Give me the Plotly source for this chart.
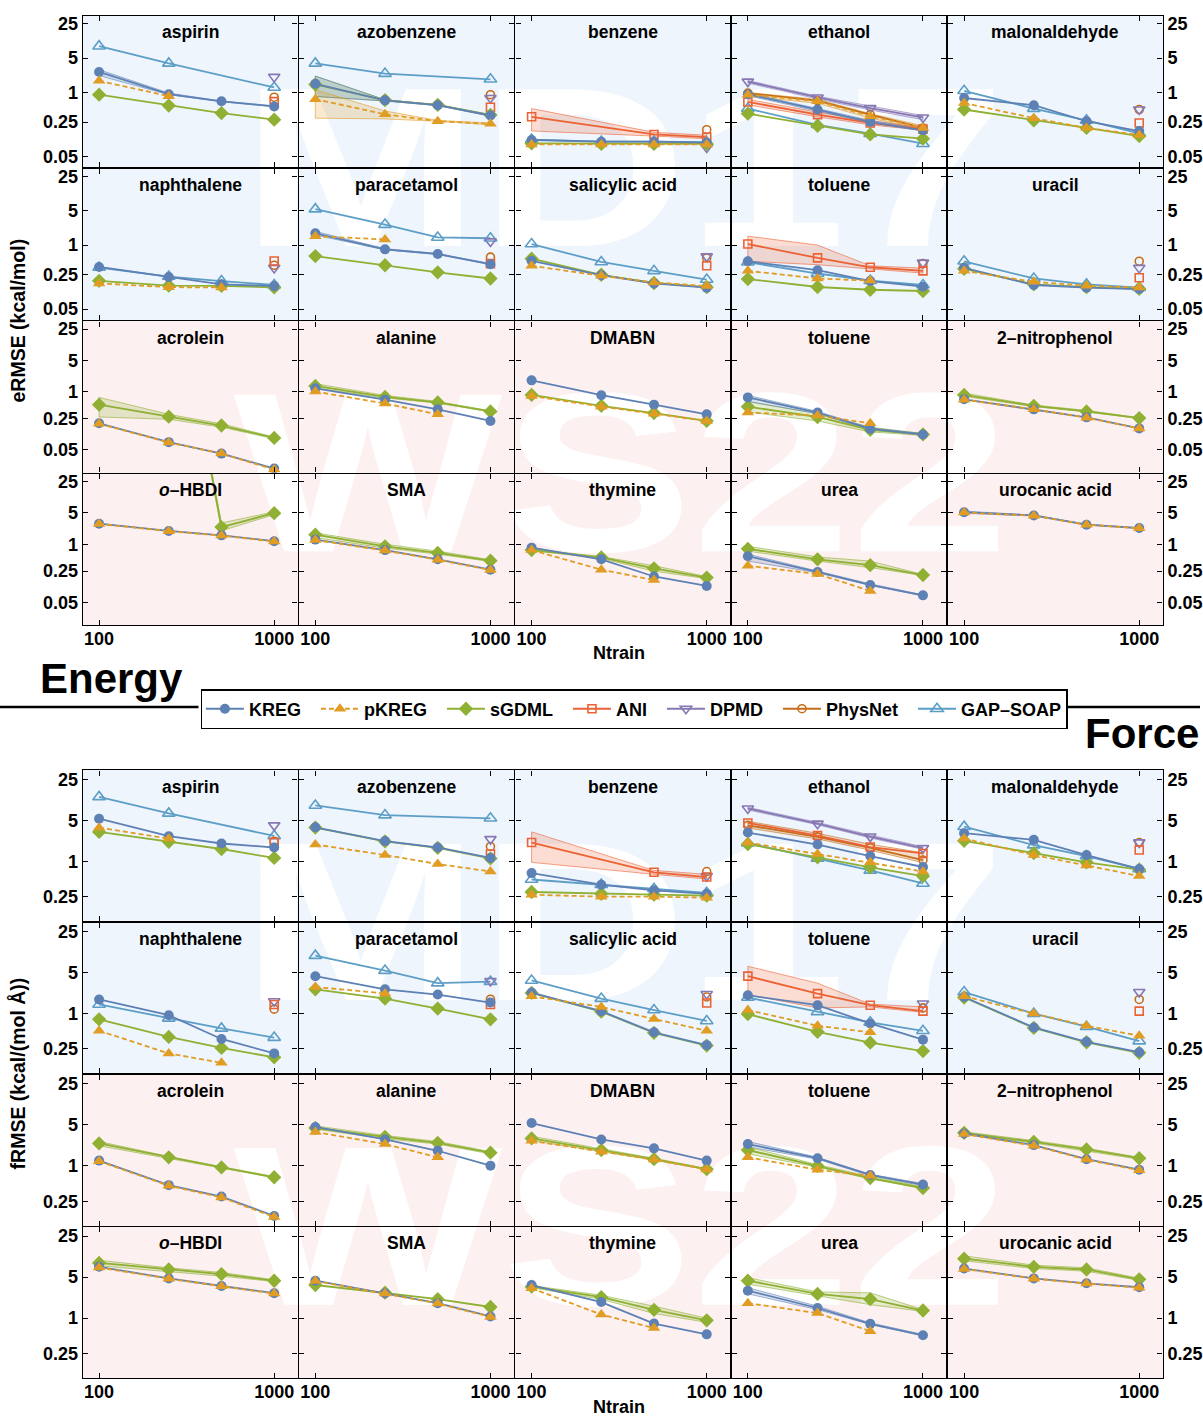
import base64
import plotly.graph_objects as go

# ---------------------------------------------------------------- data
NTRAIN = [100, 250, 500, 1000]

MD17 = ["aspirin", "azobenzene", "benzene", "ethanol", "malonaldehyde",
        "naphthalene", "paracetamol", "salicylic acid", "toluene", "uracil"]
WS22 = ["acrolein", "alanine", "DMABN", "toluene", "2-nitrophenol",
        "o-HBDI", "SMA", "thymine", "urea", "urocanic acid"]

METHODS = ["KREG", "pKREG", "sGDML", "ANI", "DPMD", "PhysNet", "GAP-SOAP"]

# energy RMSE, kcal/mol
E_KREG = {
    "MD17 aspirin": [2.61, 0.92, 0.66, 0.52],
    "MD17 azobenzene": [1.50, 0.69, 0.55, 0.34],
    "MD17 benzene": [0.108, 0.10, 0.10, 0.095],
    "MD17 ethanol": [0.92, 0.45, 0.25, 0.17],
    "MD17 malonaldehyde": [0.77, 0.55, 0.26, 0.164],
    "MD17 naphthalene": [0.36, 0.224, 0.16, 0.147],
    "MD17 paracetamol": [1.74, 0.82, 0.66, 0.41],
    "MD17 salicylic acid": [0.48, 0.245, 0.167, 0.137],
    "MD17 toluene": [0.47, 0.31, 0.186, 0.143],
    "MD17 uracil": [0.345, 0.155, 0.137, 0.128],
    "WS22 acrolein": [0.195, 0.074, 0.041, 0.019],
    "WS22 alanine": [1.18, 0.66, 0.40, 0.22],
    "WS22 DMABN": [1.78, 0.83, 0.51, 0.31],
    "WS22 toluene": [0.74, 0.34, 0.146, 0.11],
    "WS22 2-nitrophenol": [0.67, 0.40, 0.265, 0.15],
    "WS22 o-HBDI": [2.88, 1.98, 1.58, 1.17],
    "WS22 SMA": [1.27, 0.74, 0.46, 0.27],
    "WS22 thymine": [0.84, 0.46, 0.19, 0.117],
    "WS22 urea": [0.54, 0.24, 0.123, 0.072],
    "WS22 urocanic acid": [5.2, 4.4, 2.74, 2.3],
}
E_PKREG = {
    "MD17 aspirin": [1.72, 0.84, None, None],
    "MD17 azobenzene": [0.73, 0.36, 0.26, 0.23],
    "MD17 benzene": [0.088, 0.088, 0.088, 0.088],
    "MD17 ethanol": [0.90, 0.66, 0.33, 0.19],
    "MD17 malonaldehyde": [0.61, 0.30, 0.19, 0.137],
    "MD17 naphthalene": [0.167, 0.14, 0.138, None],
    "MD17 paracetamol": [1.52, 1.30, None, None],
    "MD17 salicylic acid": [0.38, 0.238, 0.175, 0.147],
    "MD17 toluene": [0.30, 0.21, 0.19, None],
    "MD17 uracil": [0.30, 0.18, 0.15, 0.137],
    "WS22 acrolein": [0.19, 0.073, 0.041, 0.018],
    "WS22 alanine": [1.0, 0.54, 0.31, None],
    "WS22 DMABN": [0.80, 0.46, 0.32, 0.22],
    "WS22 toluene": [0.34, 0.29, 0.195, None],
    "WS22 2-nitrophenol": [0.66, 0.40, 0.26, 0.15],
    "WS22 o-HBDI": [2.85, 1.96, 1.56, 1.15],
    "WS22 SMA": [1.24, 0.72, 0.45, 0.265],
    "WS22 thymine": [0.74, 0.27, 0.158, None],
    "WS22 urea": [0.33, 0.216, 0.09, None],
    "WS22 urocanic acid": [5.1, 4.35, 2.72, 2.28],
}
E_SGDML = {
    "MD17 aspirin": [0.90, 0.54, 0.38, 0.28],
    "MD17 azobenzene": [1.45, 0.70, 0.56, 0.35],
    "MD17 benzene": [0.092, 0.09, 0.09, 0.09],
    "MD17 ethanol": [0.37, 0.21, 0.14, 0.115],
    "MD17 malonaldehyde": [0.45, 0.27, 0.19, 0.13],
    "MD17 naphthalene": [0.188, 0.15, 0.148, 0.138],
    "MD17 paracetamol": [0.60, 0.39, 0.28, 0.21],
    "MD17 salicylic acid": [0.53, 0.25, 0.17, 0.14],
    "MD17 toluene": [0.204, 0.141, 0.124, 0.117],
    "MD17 uracil": [0.33, 0.16, 0.14, 0.13],
    "WS22 acrolein": [0.51, 0.275, 0.174, 0.092],
    "WS22 alanine": [1.34, 0.76, 0.57, 0.36],
    "WS22 DMABN": [0.84, 0.48, 0.33, 0.22],
    "WS22 toluene": [0.46, 0.27, 0.14, 0.11],
    "WS22 2-nitrophenol": [0.84, 0.48, 0.36, 0.255],
    "WS22 o-HBDI": [3e6, 5e6, 2.42, 4.96],
    "WS22 SMA": [1.64, 0.90, 0.64, 0.43],
    "WS22 thymine": [0.74, 0.51, 0.29, 0.18],
    "WS22 urea": [0.79, 0.46, 0.34, 0.205],
}
E_ANI = {
    "MD17 aspirin": [None, None, None, 0.65],
    "MD17 azobenzene": [None, None, None, 0.50],
    "MD17 benzene": [0.32, None, 0.14, 0.124],
    "MD17 ethanol": [0.64, 0.355, 0.24, 0.18],
    "MD17 malonaldehyde": [None, None, None, 0.24],
    "MD17 naphthalene": [None, None, None, 0.476],
    "MD17 paracetamol": [None, None, None, 0.42],
    "MD17 salicylic acid": [None, None, None, 0.38],
    "MD17 toluene": [1.05, 0.55, 0.355, 0.30],
    "MD17 uracil": [None, None, None, 0.217],
}
E_DPMD = {
    "MD17 aspirin": [None, None, None, 2.07],
    "MD17 azobenzene": [None, None, None, 0.77],
    "MD17 benzene": [None, None, None, 0.076],
    "MD17 ethanol": [1.66, 0.79, 0.48, 0.31],
    "MD17 malonaldehyde": [None, None, None, 0.45],
    "MD17 naphthalene": [None, None, None, 0.345],
    "MD17 paracetamol": [None, None, None, 1.19],
    "MD17 salicylic acid": [None, None, None, 0.59],
    "MD17 toluene": [None, None, None, 0.44],
    "MD17 uracil": [None, None, None, 0.345],
}
E_PHYSNET = {
    "MD17 aspirin": [None, None, None, 0.80],
    "MD17 azobenzene": [None, None, None, 0.90],
    "MD17 benzene": [None, None, None, 0.175],
    "MD17 ethanol": [0.97, 0.68, 0.355, 0.19],
    "MD17 malonaldehyde": [None, None, None, 0.45],
    "MD17 naphthalene": [None, None, None, 0.39],
    "MD17 paracetamol": [None, None, None, 0.57],
    "MD17 salicylic acid": [None, None, None, 0.55],
    "MD17 toluene": [None, None, None, 0.42],
    "MD17 uracil": [None, None, None, 0.47],
}
E_GAP = {
    "MD17 aspirin": [8.7, 3.89, None, 1.26],
    "MD17 azobenzene": [3.89, 2.41, None, 1.85],
    "MD17 benzene": [0.11, 0.10, 0.10, 0.098],
    "MD17 ethanol": [0.47, 0.22, 0.145, 0.091],
    "MD17 malonaldehyde": [1.08, 0.47, 0.27, 0.148],
    "MD17 naphthalene": [0.35, 0.23, 0.186, 0.155],
    "MD17 paracetamol": [5.38, 2.61, 1.43, 1.38],
    "MD17 salicylic acid": [1.05, 0.455, 0.30, 0.20],
    "MD17 toluene": [0.45, 0.265, 0.19, 0.155],
    "MD17 uracil": [0.47, 0.21, 0.16, 0.137],
}

# force RMSE, kcal/(mol A)
F_KREG = {
    "MD17 aspirin": [5.31, 2.68, 2.01, 1.72],
    "MD17 azobenzene": [3.8, 2.21, 1.72, 1.14],
    "MD17 benzene": [0.63, 0.40, 0.32, 0.28],
    "MD17 ethanol": [3.09, 1.93, 1.23, 0.80],
    "MD17 malonaldehyde": [3.01, 2.32, 1.28, 0.74],
    "MD17 naphthalene": [1.74, 0.94, 0.37, 0.21],
    "MD17 paracetamol": [4.34, 2.59, 2.11, 1.54],
    "MD17 salicylic acid": [2.28, 1.10, 0.48, 0.29],
    "MD17 toluene": [2.05, 1.39, 0.68, 0.36],
    "MD17 uracil": [1.92, 0.58, 0.33, 0.22],
    "WS22 acrolein": [1.23, 0.47, 0.30, 0.14],
    "WS22 alanine": [4.6, 2.82, 1.81, 1.01],
    "WS22 DMABN": [5.37, 2.82, 1.99, 1.23],
    "WS22 toluene": [2.35, 1.35, 0.70, 0.48],
    "WS22 2-nitrophenol": [3.56, 2.26, 1.30, 0.86],
    "WS22 o-HBDI": [7.5, 4.76, 3.53, 2.66],
    "WS22 SMA": [4.34, 2.66, 1.8, 1.07],
    "WS22 thymine": [3.67, 1.88, 0.81, 0.53],
    "WS22 urea": [2.94, 1.49, 0.80, 0.51],
    "WS22 urocanic acid": [7.0, 4.76, 3.92, 3.36],
}
F_PKREG = {
    "MD17 aspirin": [3.74, 2.44, None, None],
    "MD17 azobenzene": [1.93, 1.28, 0.90, 0.67],
    "MD17 benzene": [0.27, 0.25, 0.25, 0.24],
    "MD17 ethanol": [2.09, 1.33, 0.96, 0.67],
    "MD17 malonaldehyde": [2.44, 1.28, 0.85, 0.56],
    "MD17 naphthalene": [0.51, 0.21, 0.145, None],
    "MD17 paracetamol": [2.83, 2.21, None, None],
    "MD17 salicylic acid": [1.97, 1.30, 0.81, 0.51],
    "MD17 toluene": [1.15, 0.62, 0.48, None],
    "MD17 uracil": [1.97, 1.0, 0.62, 0.42],
    "WS22 acrolein": [1.20, 0.46, 0.29, 0.135],
    "WS22 alanine": [3.79, 2.35, 1.40, None],
    "WS22 DMABN": [2.67, 1.74, 1.28, 0.87],
    "WS22 toluene": [1.40, 0.86, 0.68, None],
    "WS22 2-nitrophenol": [3.5, 2.2, 1.28, 0.84],
    "WS22 o-HBDI": [7.3, 4.7, 3.5, 2.62],
    "WS22 SMA": [4.3, 2.62, 1.78, 1.05],
    "WS22 thymine": [3.23, 1.15, 0.68, None],
    "WS22 urea": [1.8, 1.22, 0.60, None],
    "WS22 urocanic acid": [6.9, 4.7, 3.88, 3.3],
}
F_SGDML = {
    "MD17 aspirin": [3.17, 2.15, 1.62, 1.14],
    "MD17 azobenzene": [3.75, 2.18, 1.70, 1.12],
    "MD17 benzene": [0.30, 0.28, 0.27, 0.26],
    "MD17 ethanol": [1.96, 1.17, 0.79, 0.56],
    "MD17 malonaldehyde": [2.23, 1.38, 0.96, 0.72],
    "MD17 naphthalene": [0.80, 0.40, 0.26, 0.18],
    "MD17 paracetamol": [2.59, 1.80, 1.22, 0.80],
    "MD17 salicylic acid": [2.25, 1.08, 0.47, 0.285],
    "MD17 toluene": [0.98, 0.49, 0.32, 0.23],
    "MD17 uracil": [1.88, 0.57, 0.325, 0.215],
    "WS22 acrolein": [2.41, 1.40, 0.94, 0.64],
    "WS22 alanine": [4.42, 3.12, 2.47, 1.68],
    "WS22 DMABN": [2.93, 1.86, 1.30, 0.88],
    "WS22 toluene": [1.86, 1.0, 0.62, 0.42],
    "WS22 2-nitrophenol": [3.65, 2.57, 1.91, 1.35],
    "WS22 o-HBDI": [8.74, 6.75, 5.63, 4.34],
    "WS22 SMA": [3.67, 2.72, 2.11, 1.55],
    "WS22 thymine": [3.44, 2.28, 1.39, 0.92],
    "WS22 urea": [4.34, 2.59, 2.11, 1.35],
    "WS22 urocanic acid": [10.3, 7.5, 6.75, 4.58],
}
F_ANI = {
    "MD17 aspirin": [None, None, None, 2.09],
    "MD17 azobenzene": [None, None, None, 1.33],
    "MD17 benzene": [2.09, None, 0.65, 0.54],
    "MD17 ethanol": [4.5, 2.75, 1.75, 1.36],
    "MD17 malonaldehyde": [None, None, None, 1.56],
    "MD17 naphthalene": [None, None, None, 1.43],
    "MD17 paracetamol": [None, None, None, 1.43],
    "MD17 salicylic acid": [None, None, None, 1.52],
    "MD17 toluene": [4.34, 2.19, 1.39, 1.10],
    "MD17 uracil": [None, None, None, 1.10],
}
F_DPMD = {
    "MD17 aspirin": [None, None, None, 4.1],
    "MD17 azobenzene": [None, None, None, 2.39],
    "MD17 benzene": [None, None, None, 0.56],
    "MD17 ethanol": [7.94, 4.38, 2.64, 1.68],
    "MD17 malonaldehyde": [None, None, None, 2.1],
    "MD17 naphthalene": [None, None, None, 1.62],
    "MD17 paracetamol": [None, None, None, 3.6],
    "MD17 salicylic acid": [None, None, None, 2.16],
    "MD17 toluene": [None, None, None, 1.49],
    "MD17 uracil": [None, None, None, 2.33],
}
F_PHYSNET = {
    "MD17 aspirin": [None, None, None, 2.2],
    "MD17 azobenzene": [None, None, None, 1.79],
    "MD17 benzene": [None, None, None, 0.67],
    "MD17 ethanol": [4.1, 2.61, 1.70, 1.05],
    "MD17 malonaldehyde": [None, None, None, 2.09],
    "MD17 naphthalene": [None, None, None, 1.19],
    "MD17 paracetamol": [None, None, None, 1.76],
    "MD17 salicylic acid": [None, None, None, 1.92],
    "MD17 toluene": [None, None, None, 1.25],
    "MD17 uracil": [None, None, None, 1.74],
}
F_GAP = {
    "MD17 aspirin": [12.5, 6.55, None, 2.71],
    "MD17 azobenzene": [8.94, 6.12, None, 5.4],
    "MD17 benzene": [0.49, 0.40, 0.34, 0.29],
    "MD17 ethanol": [2.04, 1.12, 0.70, 0.42],
    "MD17 malonaldehyde": [3.89, 1.89, 1.23, 0.74],
    "MD17 naphthalene": [1.43, 0.83, 0.56, 0.39],
    "MD17 paracetamol": [9.7, 5.4, 3.3, 3.5],
    "MD17 salicylic acid": [3.67, 1.80, 1.15, 0.75],
    "MD17 toluene": [1.88, 1.07, 0.71, 0.51],
    "MD17 uracil": [2.33, 1.0, 0.60, 0.34],
}

# spread over repeated trainings: (panel, method, low, high)
E_BANDS = [
    ("MD17 aspirin", "KREG", [2.2, 0.90, 0.65, 0.51], [2.9, 0.97, 0.67, 0.53]),
    ("MD17 azobenzene", "sGDML", [0.83, 0.67, 0.54, 0.33], [2.15, 0.71, 0.56, 0.35]),
    ("MD17 azobenzene", "KREG", [0.83, 0.67, 0.54, 0.33], [2.15, 0.71, 0.56, 0.35]),
    ("MD17 azobenzene", "pKREG", [0.30, 0.29, 0.26, 0.22], [1.13, 0.42, 0.27, 0.24]),
    ("MD17 benzene", "ANI", [0.165, None, 0.13, 0.115], [0.47, None, 0.155, 0.135]),
    ("MD17 ethanol", "DPMD", [1.55, 0.74, 0.44, 0.28], [1.75, 0.84, 0.53, 0.34]),
    ("MD17 ethanol", "pKREG", [0.84, 0.60, 0.30, 0.18], [1.0, 0.72, 0.37, 0.21]),
    ("MD17 ethanol", "ANI", [0.56, 0.32, 0.22, 0.17], [0.72, 0.40, 0.27, 0.19]),
    ("MD17 ethanol", "KREG", [0.86, 0.42, 0.24, 0.165], [0.98, 0.48, 0.27, 0.18]),
    ("MD17 paracetamol", "KREG", [1.6, 0.80, 0.65, 0.40], [1.9, 0.85, 0.67, 0.42]),
    ("MD17 toluene", "ANI", [0.47, 0.40, 0.33, 0.27], [1.52, 1.0, 0.38, 0.34]),
    ("WS22 acrolein", "sGDML", [0.27, 0.24, 0.16, 0.088], [0.74, 0.31, 0.19, 0.096]),
    ("WS22 alanine", "sGDML", [1.2, 0.72, 0.55, 0.35], [1.5, 0.82, 0.60, 0.37]),
    ("WS22 toluene", "sGDML", [0.35, 0.22, 0.125, 0.105], [0.60, 0.32, 0.16, 0.115]),
    ("WS22 toluene", "KREG", [0.60, 0.32, 0.14, 0.105], [0.82, 0.36, 0.155, 0.115]),
    ("WS22 2-nitrophenol", "sGDML", [0.78, 0.46, 0.35, 0.25], [0.92, 0.50, 0.38, 0.26]),
    ("WS22 o-HBDI", "sGDML", [3e6, 5e6, 2.0, 4.6], [3e6, 5e6, 3.0, 5.3]),
    ("WS22 SMA", "sGDML", [1.4, 0.82, 0.60, 0.41], [1.8, 1.0, 0.70, 0.45]),
    ("WS22 thymine", "sGDML", [0.72, 0.48, 0.25, 0.17], [0.78, 0.53, 0.33, 0.19]),
    ("WS22 urea", "sGDML", [0.70, 0.42, 0.30, 0.20], [0.90, 0.52, 0.42, 0.21]),
    ("WS22 urea", "KREG", [0.42, 0.23, 0.12, 0.07], [0.60, 0.25, 0.13, 0.074]),
    ("WS22 urocanic acid", "KREG", [4.9, 4.3, 2.7, 2.25], [5.5, 4.5, 2.8, 2.35]),
]
F_BANDS = [
    ("MD17 benzene", "ANI", [0.96, None, 0.60, 0.50], [3.17, None, 0.70, 0.60]),
    ("MD17 ethanol", "PhysNet", [3.7, 2.4, 1.55, 0.95], [4.8, 3.0, 1.95, 1.40]),
    ("MD17 ethanol", "DPMD", [7.5, 4.2, 2.5, 1.6], [8.3, 4.6, 2.8, 1.78]),
    ("MD17 toluene", "ANI", [2.1, 1.25, 1.30, 1.05], [6.4, 3.3, 1.45, 1.30]),
    ("WS22 acrolein", "sGDML", [2.2, 1.35, 0.92, 0.63], [2.6, 1.45, 0.97, 0.66]),
    ("WS22 alanine", "sGDML", [4.2, 2.9, 2.35, 1.6], [4.8, 3.3, 2.6, 1.75]),
    ("WS22 DMABN", "sGDML", [2.7, 1.75, 1.25, 0.86], [3.2, 1.95, 1.35, 0.90]),
    ("WS22 toluene", "KREG", [2.1, 1.3, 0.68, 0.46], [2.6, 1.4, 0.72, 0.50]),
    ("WS22 toluene", "sGDML", [1.6, 0.95, 0.60, 0.41], [2.1, 1.05, 0.66, 0.44]),
    ("WS22 2-nitrophenol", "sGDML", [3.5, 2.45, 1.8, 1.3], [3.8, 2.7, 2.0, 1.4]),
    ("WS22 o-HBDI", "sGDML", [7.8, 6.2, 5.2, 4.2], [9.7, 7.2, 6.0, 4.5]),
    ("WS22 thymine", "sGDML", [3.3, 2.1, 1.2, 0.85], [3.6, 2.45, 1.6, 1.0]),
    ("WS22 urea", "sGDML", [3.8, 2.4, 1.7, 1.3], [4.9, 2.8, 2.7, 1.4]),
    ("WS22 urea", "KREG", [2.6, 1.4, 0.78, 0.50], [3.3, 1.6, 0.83, 0.53]),
    ("WS22 urocanic acid", "sGDML", [9.5, 7.0, 6.3, 4.4], [11.5, 8.0, 7.2, 4.8]),
]

E_TICKS = [0.05, 0.25, 1, 5, 25]
F_TICKS = [0.25, 1, 5, 25]
X_TICKS = [100, 1000]

# ---------------------------------------------------------------- styling
W, H = 1203, 1416
FONT = "Liberation Sans, Arial, sans-serif"
GRID_LEFT, PANEL_W = 82.3, 216.8
E_TOP, E_PANEL_H = 13.3, 152.9
F_TOP, F_PANEL_H = 768.7, 152.5
FRAME_W = 1.4
X_RANGE = [1.907, 3.134]
E_RANGE_MD17 = [-1.52, 1.553]
E_RANGE_WS22 = [-1.813, 1.57]
F_RANGE = [-1.02, 1.55]
TINT = {"MD17": "#eef5fd", "WS22": "#fdf0f0"}
LEGEND_L, LEGEND_R = 199, 1065

STYLE = {
    "KREG": dict(color="#5E81B5", symbol="circle", size=10, dash="solid"),
    "pKREG": dict(color="#E19C24", symbol="triangle-up", size=11, dash="5px,3px"),
    "sGDML": dict(color="#8FB032", symbol="diamond", size=11, dash="solid"),
    "ANI": dict(color="#EB6235", symbol="square-open", size=8, dash="solid"),
    "DPMD": dict(color="#8778B3", symbol="triangle-down-open", size=10, dash="solid"),
    "PhysNet": dict(color="#C56E1A", symbol="circle-open", size=8, dash="solid"),
    "GAP-SOAP": dict(color="#5D9EC7", symbol="triangle-up-open", size=11, dash="solid"),
}
DRAW_ORDER = ["GAP-SOAP", "PhysNet", "DPMD", "ANI", "sGDML", "KREG", "pKREG"]

E_DATA = {"KREG": E_KREG, "pKREG": E_PKREG, "sGDML": E_SGDML, "ANI": E_ANI,
          "DPMD": E_DPMD, "PhysNet": E_PHYSNET, "GAP-SOAP": E_GAP}
F_DATA = {"KREG": F_KREG, "pKREG": F_PKREG, "sGDML": F_SGDML, "ANI": F_ANI,
          "DPMD": F_DPMD, "PhysNet": F_PHYSNET, "GAP-SOAP": F_GAP}


def rgba(hex_color, a):
    h = hex_color.lstrip("#")
    return "rgba(%d,%d,%d,%.3f)" % (int(h[0:2], 16), int(h[2:4], 16), int(h[4:6], 16), a)


def display(text):
    text = text.replace("-", "\u2013")
    if text.startswith("o\u2013"):
        text = "<i>o</i>" + text[1:]
    return text


def fmt_tick(v):
    return "%g" % v


fig = go.Figure()
layout_axes = {}
annotations = []
legend_done = set()
tickfont = dict(family=FONT, size=18, color="black", weight="bold")

panels = [(ds, m) for ds, names in (("MD17", MD17), ("WS22", WS22)) for m in names]
half = FRAME_W / 2

n = 0
for block, (top0, ph, data, bands, ticks) in enumerate([
        (E_TOP, E_PANEL_H, E_DATA, E_BANDS, E_TICKS),
        (F_TOP, F_PANEL_H, F_DATA, F_BANDS, F_TICKS)]):
    for idx, (ds, mol) in enumerate(panels):
        n += 1
        row, col = divmod(idx, 5)
        key = ds + " " + mol
        x0 = GRID_LEFT + col * PANEL_W
        y0 = top0 + row * ph
        sx = "" if n == 1 else str(n)
        xref, yref = "x" + sx, "y" + sx
        if block == 0:
            yr = E_RANGE_MD17 if ds == "MD17" else E_RANGE_WS22
        else:
            yr = F_RANGE
        # frames of neighbouring panels sit exactly on top of each other
        layout_axes["xaxis" + sx] = dict(
            type="log", range=X_RANGE,
            domain=[(x0 + half) / W, (x0 + PANEL_W - half) / W],
            anchor=yref, tickvals=X_TICKS, ticktext=[fmt_tick(v) for v in X_TICKS],
            showticklabels=(row == 3), ticks="inside", ticklen=5, tickwidth=1.2,
            tickcolor="black", showline=True, linecolor="black", linewidth=FRAME_W,
            mirror="allticks", showgrid=False, zeroline=False, tickfont=tickfont,
            ticklabelstandoff=-3, fixedrange=True)
        layout_axes["yaxis" + sx] = dict(
            type="log", range=yr,
            domain=[1 - (y0 + ph - half) / H, 1 - (y0 + half) / H],
            anchor=xref, tickvals=ticks, ticktext=[fmt_tick(v) for v in ticks],
            showticklabels=(col in (0, 4)), side="right" if col == 4 else "left",
            ticks="inside", ticklen=5, tickwidth=1.2, tickcolor="black",
            showline=True, linecolor="black", linewidth=FRAME_W, mirror="allticks",
            showgrid=False, zeroline=False, tickfont=tickfont, fixedrange=True)
        annotations.append(dict(
            text=display(mol), x=(x0 + PANEL_W / 2) / W, y=1 - (y0 + 17) / H,
            font=dict(family=FONT, size=17.5, color="black", weight="bold")))

        # spread bands first
        for bkey, meth, lo, hi in bands:
            if bkey != key:
                continue
            c = STYLE[meth]["color"]
            pts = [(x, l, h) for x, l, h in zip(NTRAIN, lo, hi) if l is not None and h is not None]
            xs = [p[0] for p in pts] + [p[0] for p in reversed(pts)]
            ys = [p[2] for p in pts] + [p[1] for p in reversed(pts)]
            fig.add_trace(go.Scatter(
                x=xs + [xs[0]], y=ys + [ys[0]], mode="lines", fill="toself",
                fillcolor=rgba(c, 0.22), line=dict(color=rgba(c, 0.75), width=0.8),
                xaxis=xref, yaxis=yref, showlegend=False, hoverinfo="skip"))

        for meth in DRAW_ORDER:
            vals = data[meth].get(key)
            if vals is None:
                continue
            st = STYLE[meth]
            is_open = st["symbol"].endswith("-open")
            first = meth not in legend_done
            legend_done.add(meth)
            label = display(meth)
            if meth != METHODS[-1]:
                label += "\u00a0\u00a0"
            fig.add_trace(go.Scatter(
                x=NTRAIN, y=vals, mode="lines+markers", connectgaps=True,
                name=label, legendgroup=meth, showlegend=first,
                legendrank=METHODS.index(meth) + 1,
                line=dict(color=st["color"], width=1.8, dash=st["dash"]),
                marker=dict(symbol=st["symbol"], size=st["size"], color=st["color"],
                            line=dict(color=st["color"], width=1.6 if is_open else 0)),
                xaxis=xref, yaxis=yref, hoverinfo="skip"))

# ---------------------------------------------------------------- background tint and dataset watermarks
svg = ['<svg xmlns="http://www.w3.org/2000/svg" width="%d" height="%d" viewBox="0 0 %d %d">' % (W, H, W, H)]
grid_w = 5 * PANEL_W
for top0, ph in ((E_TOP, E_PANEL_H), (F_TOP, F_PANEL_H)):
    for k, ds in enumerate(("MD17", "WS22")):
        ry = top0 + 2 * k * ph
        svg.append('<rect x="%.1f" y="%.1f" width="%.1f" height="%.1f" fill="%s"/>'
                   % (GRID_LEFT, ry, grid_w, 2 * ph, TINT[ds]))
    for k, (ds, tx, tlen) in enumerate((("MD17", 242, 766), ("WS22", 234, 778))):
        base = top0 + 2 * k * ph + 231
        svg.append('<text x="%d" y="%.1f" font-family="Liberation Sans, Arial, sans-serif" '
                   'font-weight="bold" font-size="228" fill="white" textLength="%d" '
                   'lengthAdjust="spacingAndGlyphs">%s</text>' % (tx, base, tlen, ds))
svg.append('</svg>')
svg_uri = "data:image/svg+xml;base64," + base64.b64encode("".join(svg).encode()).decode()

# ---------------------------------------------------------------- labels
big = dict(family=FONT, size=42, color="black", weight="bold")
lab = dict(family=FONT, size=18, color="black", weight="bold")
axt = dict(family=FONT, size=19.5, color="black", weight="bold")
annotations += [
    dict(text="Ntrain", x=621 / W, y=1 - 652 / H, font=lab),
    dict(text="Ntrain", x=621 / W, y=1 - 1407 / H, font=lab),
    dict(text="eRMSE (kcal/mol)", x=18 / W, y=1 - 319 / H, textangle=-90, font=axt),
    dict(text="fRMSE (kcal/(mol \u00c5))", x=18 / W, y=1 - 1073 / H, textangle=-90, font=axt),
    dict(text="Energy", x=112 / W, y=1 - 677 / H, font=big),
    dict(text="Force", x=1145 / W, y=1 - 733 / H, font=big),
]
for a in annotations:
    a.setdefault("xref", "paper")
    a.setdefault("yref", "paper")
    a.setdefault("showarrow", False)
    a.setdefault("xanchor", "center")
    a.setdefault("yanchor", "middle")

shapes = [
    dict(type="line", xref="paper", yref="paper", x0=0, x1=LEGEND_L / W,
         y0=1 - 706 / H, y1=1 - 706 / H, line=dict(color="black", width=2.5)),
    dict(type="line", xref="paper", yref="paper", x0=LEGEND_R / W, x1=1,
         y0=1 - 706 / H, y1=1 - 706 / H, line=dict(color="black", width=2.5)),
]

fig.update_layout(
    width=W, height=H, margin=dict(l=0, r=0, t=0, b=0, pad=0),
    paper_bgcolor="white", plot_bgcolor="rgba(0,0,0,0)",
    font=dict(family=FONT, color="black"),
    annotations=annotations, shapes=shapes,
    images=[dict(source=svg_uri, xref="paper", yref="paper", x=0, y=1, sizex=1, sizey=1,
                 xanchor="left", yanchor="top", sizing="stretch", layer="below")],
    legend=dict(orientation="h", x=(LEGEND_L + LEGEND_R) / 2 / W + 4 / W, xanchor="center",
                y=1 - 688 / H, yanchor="top",
                bgcolor="white", bordercolor="black", borderwidth=1.5,
                font=dict(family=FONT, size=18, color="black", weight="bold"),
                itemwidth=38, tracegroupgap=0),
    showlegend=True,
    **layout_axes,
)

fig.write_html("out.html")
